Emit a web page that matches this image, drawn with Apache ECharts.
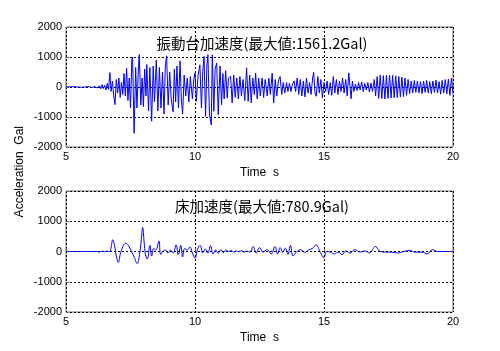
<!DOCTYPE html>
<html>
<head>
<meta charset="utf-8">
<script src="https://cdn.jsdelivr.net/npm/echarts@6/dist/echarts.min.js"></script>
<style>html,body{margin:0;padding:0;background:#fff}#c{width:500px;height:351px}</style>
</head>
<body>
<div id="c"></div>
<script>
const topTitle = '振動台加速度(最大値:1561.2Gal)';
const bottomTitle = '床加速度(最大値:780.9Gal)';
const xTicks = [5, 10, 15, 20];
const yTicks = [-2000, -1000, 0, 1000, 2000];

const topWave = [
[5,0],[5.3,10],[5.6,-10],[5.9,15],[6.0,-20],[6.1,20],[6.2,-30],[6.3,40],[6.35,-60],[6.4,80],[6.45,-50],[6.5,60],[6.55,-100],[6.6,120],[6.65,-80],
[6.7,480],[6.75,-150],[6.8,200],[6.85,-300],[6.9,-590],[6.95,250],[7.0,-200],[7.05,300],[7.1,-350],[7.15,150],[7.2,-250],[7.25,450],[7.3,-300],[7.35,620],[7.4,-450],[7.45,300],[7.5,-700],[7.55,900],[7.58,1000],[7.64,-1540],[7.7,650],[7.75,-700],[7.8,500],[7.84,1080],[7.9,-600],[7.95,300],[8.0,-650],[8.05,600],[8.1,-300],[8.13,750],[8.2,-800],[8.25,650],[8.32,-1140],[8.38,700],[8.43,-500],[8.5,900],[8.56,-800],[8.62,650],[8.68,-700],[8.74,500],[8.8,-900],[8.85,700],[8.9,1040],[8.96,-600],[9.02,500],[9.08,-400],[9.15,-830],[9.2,600],[9.25,-500],[9.3,700],[9.36,-700],[9.42,870],[9.47,-400],[9.52,-900],[9.58,400],[9.64,-300],[9.7,300],[9.76,-500],[9.82,350],[9.9,-400],[9.95,250],
[10.0,470],[10.05,-480],[10.12,400],[10.19,740],[10.25,-700],[10.3,500],[10.35,1020],[10.41,-980],[10.46,700],[10.5,1075],[10.56,-900],[10.63,-1260],[10.67,1075],[10.73,-810],[10.78,600],[10.84,800],[10.9,-920],[10.97,700],[11.03,-590],[11.08,450],[11.13,-400],[11.19,540],[11.25,-370],[11.3,300],[11.38,350],[11.44,-530],[11.5,400],[11.56,-350],[11.62,300],[11.68,-400],[11.74,350],[11.8,-300],[11.86,250],[11.93,-450],[12.0,640],[12.06,-480],[12.12,400],[12.18,-530],[12.24,300],[12.3,-250],[12.35,460],[12.41,-400],[12.47,300],[12.53,-300],[12.6,300],[12.66,-350],[12.72,250],[12.8,-300],[12.86,300],[12.92,-250],[12.99,460],[13.05,-530],[13.11,250],[13.17,-300],[13.23,200],[13.3,350],[13.36,-250],[13.42,150],[13.48,-200],[13.55,150],[13.6,-150],[13.66,120],[13.72,-150],[13.78,100],[13.84,200],[13.9,-150],[13.96,300],[14.02,-250],
[14.08,250],[14.14,-300],[14.2,200],[14.26,-330],[14.32,300],[14.38,-200],[14.44,150],[14.5,-250],[14.56,300],[14.6,490],[14.65,-200],[14.7,-310],[14.76,350],[14.82,-200],[14.88,250],[14.94,-370],[15.0,150],[15.06,-150],[15.12,200],[15.18,-250],[15.24,150],[15.3,-280],[15.36,350],[15.42,-200],[15.48,250],[15.54,-250],[15.6,200],[15.66,-150],[15.72,300],[15.78,-200],[15.84,250],[15.9,-300],[15.96,470],[16.0,450],[16.05,-390],[16.1,200],[16.16,-150],[16.22,100],[16.28,-120],[16.34,150],[16.4,-100],[16.46,170],[16.52,-150],[16.58,120],[16.64,-100],[16.7,150],[16.76,-170],[16.82,130],[16.88,-150],[16.95,250],
[17.0,-300],[17.06,350],[17.12,-380],[17.18,400],[17.24,-390],[17.3,380],[17.36,-400],[17.42,390],[17.48,-380],[17.54,400],[17.6,-370],[17.66,390],[17.72,-360],[17.78,370],[17.84,-350],[17.9,350],[17.96,-330],[18.02,330],[18.08,-320],[18.14,300],[18.2,-280],[18.26,250],[18.32,-220],[18.38,200],[18.44,-200],[18.5,220],[18.56,-180],[18.62,200],[18.68,-200],[18.74,180],[18.8,-220],[18.86,200],[18.92,-180],[18.98,220],[19.04,-200],[19.1,180],[19.16,-220],[19.22,200],[19.28,-180],[19.34,230],[19.4,-200],[19.46,180],[19.52,-240],[19.58,220],[19.64,-200],[19.7,250],[19.76,-230],[19.82,260],[19.88,-280],[19.94,300],[20.0,-200]
];

const floorWave = [
[5,0],[6.2,0],[6.3,-20],[6.4,15],[6.5,-10],[6.6,10],[6.7,0],[6.75,150],[6.81,390],[6.88,200],[6.95,-150],[7.03,-360],[7.1,-100],[7.2,150],[7.32,275],[7.45,150],[7.55,-20],[7.65,-200],[7.76,-400],[7.85,-100],[7.92,400],[7.97,800],[8.03,300],[8.08,-100],[8.15,-250],[8.25,200],[8.32,-150],[8.4,100],[8.48,50],[8.6,350],[8.67,-100],[8.75,0],[8.85,50],[8.95,-50],[9.05,50],[9.15,-50],[9.27,220],[9.35,-100],[9.45,200],[9.52,-180],[9.6,100],[9.7,50],[9.8,150],[9.9,-50],[10.0,-220],[10.1,80],[10.2,200],[10.3,-50],[10.4,80],[10.5,-50],[10.6,190],[10.7,-80],[10.8,50],[10.9,-60],[11.0,60],[11.1,-40],[11.2,50],[11.3,0],[11.4,30],[11.5,-20],[11.6,20],[11.7,-10],[11.8,30],[11.9,-20],[12.0,10],[12.13,-20],[12.25,165],[12.37,-50],[12.5,130],[12.63,-20],[12.8,60],[12.95,-80],[13.1,165],[13.2,-80],[13.3,130],[13.4,-20],[13.5,110],[13.6,-100],[13.7,200],[13.8,-150],[13.95,0],[14.1,60],[14.25,-30],[14.4,50],[14.55,100],[14.7,220],[14.85,-20],[15.0,-200],[15.1,0],[15.25,-20],[15.4,-80],[15.55,-20],[15.7,-100],[15.85,20],[16.0,-50],[16.2,60],[16.4,-20],[16.6,20],[16.75,-50],[17.0,165],[17.15,20],[17.4,-20],[17.6,-20],[17.85,-50],[18.1,0],[18.35,40],[18.5,-20],[18.8,-20],[19.0,-80],[19.2,60],[19.4,0],[20,0]
];

const font = '"Liberation Sans", Arial, sans-serif';
const jpFont = '"Noto Sans CJK JP", sans-serif';

function xAxis(i) {
  return {
    gridIndex: i, type: 'value', min: 5, max: 20, interval: 5,
    name: 'Time  s', nameLocation: 'middle', nameGap: 20,
    nameTextStyle: { fontFamily: font, fontSize: 12, color: '#000' },
    axisLine: { show: false },
    axisTick: { show: true, inside: true, length: 3, lineStyle: { color: '#666' } },
    axisLabel: { fontFamily: font, fontSize: 11, color: '#000', margin: 4,
      formatter: v => xTicks.includes(v) ? String(v) : '' },
    splitLine: { show: true, lineStyle: { color: '#000', type: [2, 2], width: 1 } }
  };
}
function yAxis(i) {
  return {
    gridIndex: i, type: 'value', min: -2000, max: 2000, interval: 1000,
    axisLine: { show: false },
    axisTick: { show: true, inside: true, length: 3, lineStyle: { color: '#666' } },
    axisLabel: { fontFamily: font, fontSize: 11, color: '#000', margin: 4,
      formatter: v => yTicks.includes(v) ? String(v) : '' },
    splitLine: { show: true, lineStyle: { color: '#000', type: [2, 2], width: 1 } }
  };
}

const chart = echarts.init(document.getElementById('c'), null, { renderer: 'canvas' });
chart.setOption({
  animation: false,
  backgroundColor: '#fff',
  title: [
    { text: topTitle, left: 257, top: 31, textAlign: 'center',
      textStyle: { fontFamily: jpFont, fontSize: 14.5, fontWeight: 'normal', color: '#000' } },
    { text: bottomTitle, left: 257, top: 194, textAlign: 'center',
      textStyle: { fontFamily: jpFont, fontSize: 14.5, fontWeight: 'normal', color: '#000' } }
  ],
  grid: [
    { left: 66, top: 27, width: 387, height: 120, show: true, borderColor: '#777', borderWidth: 1, backgroundColor: 'transparent' },
    { left: 66, top: 191, width: 387, height: 121, show: true, borderColor: '#777', borderWidth: 1, backgroundColor: 'transparent' }
  ],
  xAxis: [xAxis(0), xAxis(1)],
  yAxis: [yAxis(0), yAxis(1)],
  graphic: [
    { type: 'text', left: 14, top: 126, rotation: Math.PI / 2,
      style: { text: 'Acceleration  Gal', font: '12px "Liberation Sans", Arial, sans-serif', fill: '#000' } }
  ],
  series: [
    { type: 'line', xAxisIndex: 0, yAxisIndex: 0, data: topWave, showSymbol: false,
      lineStyle: { color: '#0000ff', width: 1 }, z: 5 },
    { type: 'line', xAxisIndex: 1, yAxisIndex: 1, data: floorWave, showSymbol: false, smooth: 0.4,
      lineStyle: { color: '#0000ff', width: 1 }, z: 5 }
  ]
});
</script>
</body>
</html>
